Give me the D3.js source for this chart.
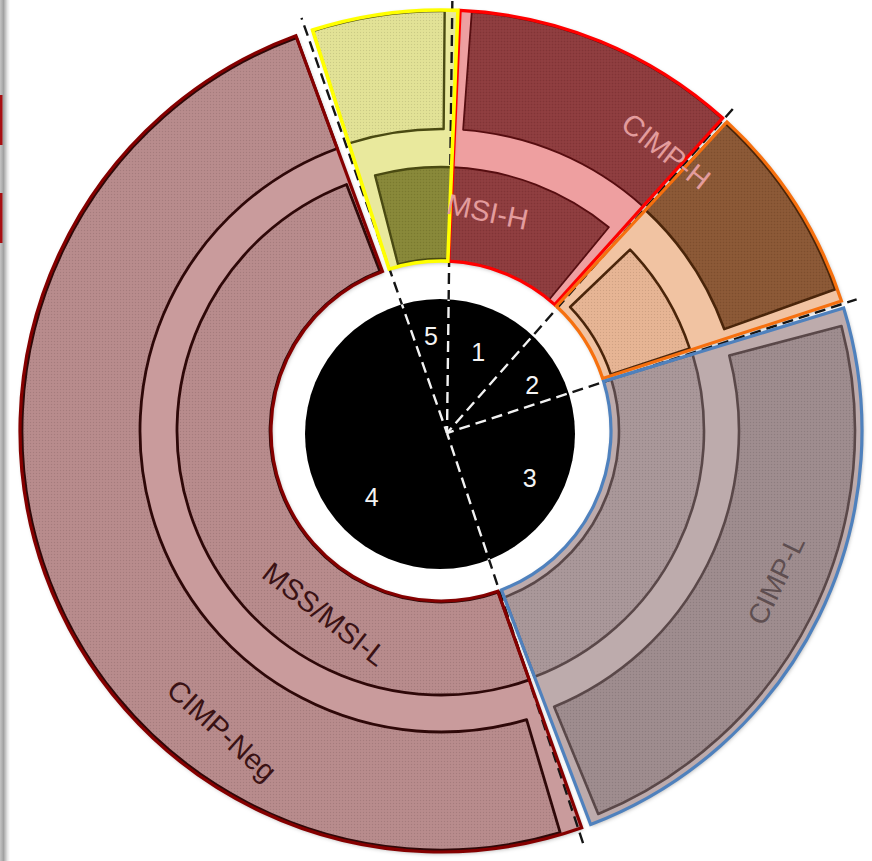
<!DOCTYPE html>
<html>
<head>
<meta charset="utf-8">
<script src="https://cdn.jsdelivr.net/npm/d3@7"></script>
<style>
  html, body { margin: 0; padding: 0; background: #fff; }
  svg { display: block; }
  text { font-family: "Liberation Sans", Arial, Helvetica, sans-serif; }
</style>
</head>
<body>
<svg id="chart" width="872" height="861"></svg>
<script>
// Molecular subtypes, clockwise from 12 o'clock
const subtypes    = ["1", "2", "3", "4", "5"];
const subtypeShare = [11.3, 8.4, 24.6, 50.1, 5.6];          // % of tumours
const msiStatus   = ["MSI-H", "MSS/MSI-L", "MSS/MSI-L", "MSS/MSI-L", "MSI-H"];   // inner ring
const cimpStatus  = ["CIMP-H", "CIMP-H", "CIMP-L", "CIMP-Neg", "CIMP-Neg"];     // outer ring
const ringLabels  = ["MSI-H", "CIMP-H", "CIMP-L", "MSS/MSI-L", "CIMP-Neg"];

// ---------- layout & style ----------
const W = 872, H = 861;
const C  = { x: 441, y: 431 };     // ring centre
const HUB = { x: 447, y: 433 };    // where the divider lines meet
const DISC = { x: 440, y: 434, r: 135 };
const R_IN = 170, R_OUT = 421, R_TICK = 436;

const rad = d => d * Math.PI / 180;
const deg = r => r * 180 / Math.PI;
const polar = (a, r, c = C) => [c.x + r * Math.sin(rad(a)), c.y - r * Math.cos(rad(a))];

// per-subtype colours
const styles = [
  { bg: "#ee9fa0", outer: "#8d3b3d", inner: "#8d3b3d", line: "#560d10", edge: "#ff0000", lw: 1.8 },
  { bg: "#f1c3a2", outer: "#8a5734", inner: "#e6b493", line: "#4a250a", edge: "#f6700f", lw: 2.6 },
  { bg: "#bdabac", outer: "#9d8b8d", inner: "#a89698", line: "#5a4849", edge: "#4f81bd", lw: 2.6 },
  { bg: "#c99b9c", outer: "#b78a8b", inner: "#b78a8b", line: "#2e0808", edge: "#850000", lw: 2.8 },
  { bg: "#e9e99d", outer: "#e1e195", inner: "#878737", line: "#4a4a12", edge: "#ffff00", lw: 2.4 }
];
// small nudges of each sector's edges relative to the divider (deg)
const edgeAdj = [[1.1, -0.2], [0.6, -0.4], [0.6, -1.8], [-0.5, -1.5], [0.9, 0.8]];
// ring geometry inside each sector: angular insets (deg) and radii
const outerBand = [
  { ins: [1.6, 0.0], r: [302, 420] },
  { ins: [0.0, 1.8], r: [301, 419] },
  { ins: [2.3, 1.5], r: [298, 414] },
  { ins: [3.0, 0.0], r: [301, 419] },
  { ins: [0.0, 1.8], r: [302, 420] }
];
const innerBand = [
  { ins: [0.0, 2.5], r: [170, 264] },
  { ins: [3.4, 0.4], r: [179, 262] },
  { ins: [0.0, 0.0], r: [178, 263] },
  { ins: [0.0, 0.8], r: [171, 264] },
  { ins: [3.3, 0.0], r: [172, 264] }
];
// ring label placement: [angle, radius, rotation, colour]
const labelPos = [
  [12, 224, 12, "#e39c9d"],
  [38.8, 359, 38, "#e39c9d"],
  [114, 367, -64, "#5e4e50"],
  [212.4, 217, 38, "#3a1214"],
  [216.2, 371, 42, "#3a1214"]
];
// subtype number placement around the hub: [angle, radius]
const numberPos = [[21, 87], [60.5, 98], [118.5, 94], [229.5, 99], [350.6, 98]];

// ---------- scales ----------
const pie = d3.pie().sort(null).value(d => d)
  .startAngle(rad(1.5)).endAngle(rad(361.5));
const slices = pie(subtypeShare).map((p, i) => {
  const a0 = deg(p.startAngle) + edgeAdj[i][0];
  const a1 = deg(p.endAngle) + edgeAdj[i][1];
  return { i, id: subtypes[i], msi: msiStatus[i], cimp: cimpStatus[i],
           p, a0, a1, st: styles[i] };
});

const arc = d3.arc();
const sectorPath = (a0, a1, r0, r1) =>
  arc({ startAngle: rad(a0), endAngle: rad(a1), innerRadius: r0, outerRadius: r1 });

// ---------- svg ----------
const svg = d3.select("#chart").attr("viewBox", `0 0 ${W} ${H}`);
const defs = svg.append("defs");

const shadow = defs.append("filter").attr("id", "shadow")
  .attr("x", "-10%").attr("y", "-10%").attr("width", "120%").attr("height", "120%");
shadow.append("feDropShadow").attr("dx", 1).attr("dy", 1.5)
  .attr("stdDeviation", 2).attr("flood-color", "#000").attr("flood-opacity", 0.35);

const tex = defs.append("pattern").attr("id", "tex")
  .attr("patternUnits", "userSpaceOnUse").attr("width", 3).attr("height", 3);
tex.append("rect").attr("width", 1).attr("height", 1).attr("fill", "rgba(0,0,0,0.10)");
tex.append("rect").attr("x", 1.5).attr("y", 1.5).attr("width", 1).attr("height", 1)
  .attr("fill", "rgba(255,255,255,0.08)");

defs.append("clipPath").attr("id", "discClip")
  .append("circle").attr("cx", DISC.x).attr("cy", DISC.y).attr("r", DISC.r);

const edgeGrad = defs.append("linearGradient").attr("id", "edgeGrad")
  .attr("x1", 0).attr("x2", 1).attr("y1", 0).attr("y2", 0);
edgeGrad.append("stop").attr("offset", 0).attr("stop-color", "#c4c4c4");
edgeGrad.append("stop").attr("offset", 0.35).attr("stop-color", "#a2a2a2");
edgeGrad.append("stop").attr("offset", 0.75).attr("stop-color", "#e6e6e6");
edgeGrad.append("stop").attr("offset", 1).attr("stop-color", "#ffffff");

svg.append("rect").attr("width", W).attr("height", H).attr("fill", "#fff");

// page edge
svg.append("rect").attr("x", 0).attr("y", 0).attr("width", 10).attr("height", H)
  .attr("fill", "url(#edgeGrad)");
svg.selectAll("rect.mark").data([[95, 145], [193, 243]]).join("rect")
  .attr("class", "mark").attr("x", 0).attr("width", 2.5)
  .attr("y", d => d[0]).attr("height", d => d[1] - d[0]).attr("fill", "#a80f12");

// sector backgrounds
const bgLayer = svg.append("g").attr("transform", `translate(${C.x},${C.y})`);
bgLayer.selectAll("path.sector").data(slices).join("path")
  .attr("class", "sector")
  .attr("d", d => sectorPath(d.a0, d.a1, R_IN, R_OUT))
  .attr("fill", d => d.st.bg)
  .attr("filter", "url(#shadow)");

// divider lines (black part)
const dividers = slices.map(d => deg(d.p.startAngle));
const lineLayer = svg.append("g");
const drawDividers = (sel, colour) => sel.selectAll("line").data(dividers).join("line")
  .attr("x1", HUB.x).attr("y1", HUB.y)
  .attr("x2", a => polar(a, R_TICK)[0]).attr("y2", a => polar(a, R_TICK)[1])
  .attr("stroke", colour).attr("stroke-width", 2.4)
  .attr("stroke-dasharray", "11 6").attr("stroke-dashoffset", 4);
drawDividers(lineLayer, "#151515");

// rings inside each sector
const bandLayer = svg.append("g").attr("transform", `translate(${C.x},${C.y})`);
const bands = [];
slices.forEach(d => {
  const ob = outerBand[d.i], ib = innerBand[d.i];
  bands.push({ d, a0: d.a0 + ob.ins[0], a1: d.a1 - ob.ins[1], r: ob.r, fill: d.st.outer, label: d.cimp });
  bands.push({ d, a0: d.a0 + ib.ins[0], a1: d.a1 - ib.ins[1], r: ib.r, fill: d.st.inner, label: d.msi });
});
bandLayer.selectAll("path.band").data(bands).join("path")
  .attr("class", "band")
  .attr("d", b => sectorPath(b.a0, b.a1, b.r[0], b.r[1]))
  .attr("fill", b => b.fill)
  .attr("stroke", b => b.d.st.line)
  .attr("stroke-width", b => b.d.st.lw)
  .attr("stroke-linejoin", "round");
bandLayer.selectAll("path.tex").data(bands).join("path")
  .attr("class", "tex")
  .attr("d", b => sectorPath(b.a0, b.a1, b.r[0] + 1.5, b.r[1] - 1.5))
  .attr("fill", "url(#tex)");

// sector outlines, on top of the rings
const edgeLayer = svg.append("g").attr("transform", `translate(${C.x},${C.y})`);
edgeLayer.selectAll("path.edge").data(slices).join("path")
  .attr("class", "edge")
  .attr("d", d => sectorPath(d.a0, d.a1, R_IN, R_OUT))
  .attr("fill", "none")
  .attr("stroke", d => d.st.edge)
  .attr("stroke-width", d => d.i === 4 ? 3.6 : 3.2)
  .attr("stroke-linejoin", "miter");

// central disc and its white dividers
svg.append("circle").attr("cx", DISC.x).attr("cy", DISC.y).attr("r", DISC.r).attr("fill", "#000");
drawDividers(svg.append("g").attr("clip-path", "url(#discClip)"), "#f2f2f2");

// subtype numbers
svg.append("g").selectAll("text").data(subtypes).join("text")
  .attr("x", (s, i) => polar(numberPos[i][0], numberPos[i][1], HUB)[0])
  .attr("y", (s, i) => polar(numberPos[i][0], numberPos[i][1], HUB)[1])
  .attr("text-anchor", "middle").attr("dominant-baseline", "central")
  .attr("font-size", 25).attr("fill", "#f4f4f4")
  .text(s => s);

// ring labels
svg.append("g").selectAll("text").data(ringLabels).join("text")
  .attr("transform", (t, i) => {
    const [x, y] = polar(labelPos[i][0], labelPos[i][1]);
    return `translate(${x},${y}) rotate(${labelPos[i][2]})`;
  })
  .attr("text-anchor", "middle").attr("dominant-baseline", "central")
  .attr("font-size", (t, i) => i === 2 ? 28 : 29)
  .attr("fill", (t, i) => labelPos[i][3])
  .text(t => t);
</script>
</body>
</html>
